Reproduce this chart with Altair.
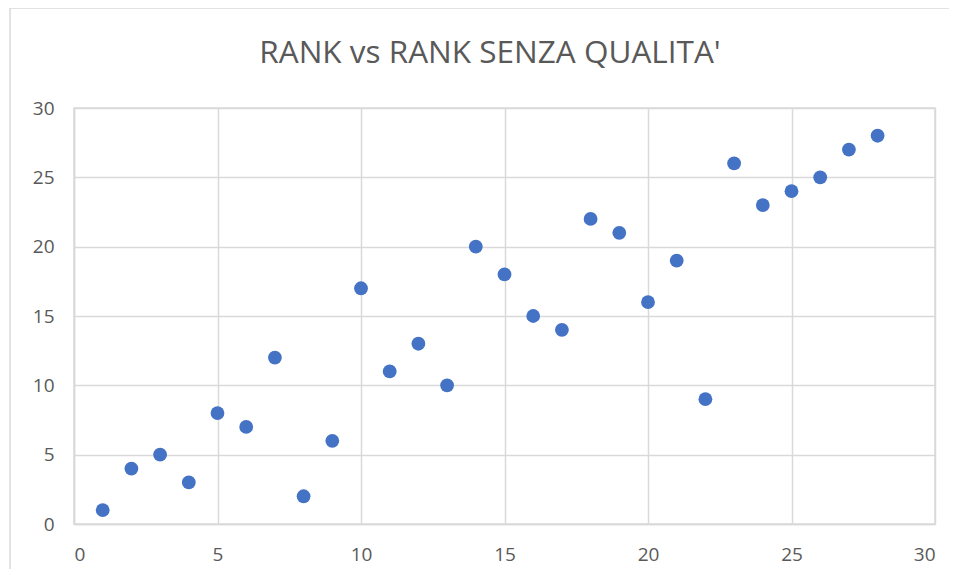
import altair as alt
import pandas as pd

rank = list(range(1, 29))
rank_senza = [1, 4, 5, 3, 8, 7, 12, 2, 6, 17, 11, 13, 10, 20, 18, 15, 14, 22, 21, 16, 19, 9, 26, 23, 24, 25, 27, 28]
title_text = ["RANK vs RANK SENZA QUALITA'"]

df = pd.DataFrame({"rank": rank, "senza": rank_senza})

GRID = "#d9d9d9"
TXT = "#595959"

points = alt.Chart(df).mark_circle(size=190, color="#4472C4", opacity=1).encode(
    x=alt.X("rank:Q", scale=alt.Scale(domain=[0, 30], nice=False),
            axis=alt.Axis(values=[0, 5, 10, 15, 20, 25, 30], title=None, grid=True,
                          gridColor=GRID, gridWidth=1.5, domainColor=GRID, domainWidth=1.5, ticks=False,
                          labelFontSize=19, labelColor=TXT, labelPadding=21,
                          labelFont="Open Sans")),
    y=alt.Y("senza:Q", scale=alt.Scale(domain=[0, 30], nice=False),
            axis=alt.Axis(values=[0, 5, 10, 15, 20, 25, 30], title=None, grid=True,
                          gridColor=GRID, gridWidth=1.5, domainColor=GRID, domainWidth=1.5, ticks=False,
                          labelFontSize=19, labelColor=TXT, labelPadding=20,
                          labelFont="Open Sans")),
)

border = alt.Chart(pd.DataFrame({"a": [0]})).mark_rect(
    fill="transparent", fillOpacity=0, stroke="#d9d9d9", strokeWidth=1.5, clip=False
).encode(
    x=alt.value(-64), x2=alt.value(960), y=alt.value(-100), y2=alt.value(560)
)

title = alt.Chart(pd.DataFrame({"t": title_text})).mark_text(
    fontSize=31.5, font="Open Sans", color=TXT, align="center", baseline="middle", clip=False
).encode(text="t:N", x=alt.value(416), y=alt.value(-54))

chart = alt.layer(border, points, title).properties(
    width=861, height=416,
    padding={"left": 66, "top": 100, "right": 14, "bottom": 45},
    autosize=alt.AutoSizeParams(type="none"),
).configure_view(stroke=GRID, strokeWidth=1.5)

chart.save("out.html", embed_options={"renderer": "svg", "actions": False})
